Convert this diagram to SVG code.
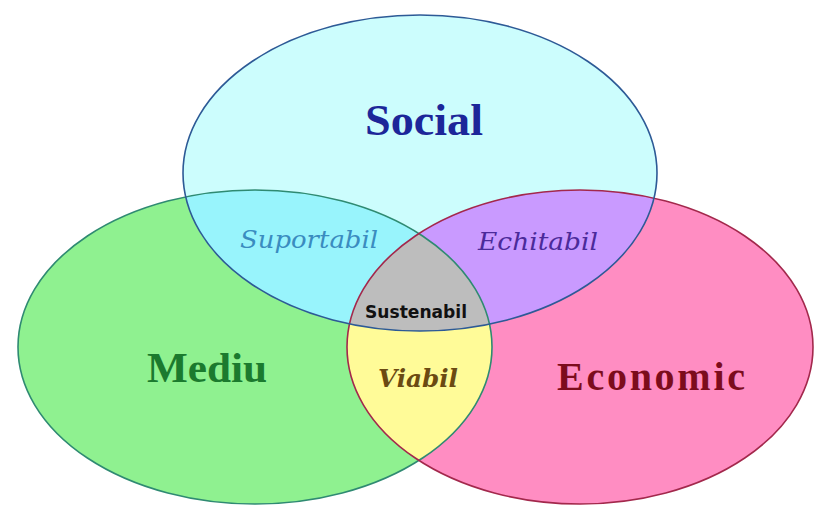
<svg xmlns="http://www.w3.org/2000/svg" width="814" height="507" viewBox="0 0 814 507">
<style>
.outline{fill:none;stroke-width:1.6}
.big{font-family:"Liberation Serif","Times New Roman",serif;font-weight:bold}
.ital{font-family:"DejaVu Serif","Liberation Serif",serif;font-style:italic}
</style>
<defs>
<clipPath id="cs"><ellipse cx="420" cy="173" rx="237" ry="158"/></clipPath>
<clipPath id="cm"><ellipse cx="255" cy="347" rx="237" ry="157"/></clipPath>
</defs>
<rect width="814" height="507" fill="#ffffff"/>
<g id="social">
<ellipse cx="420" cy="173" rx="237" ry="158" fill="#ccfdfd"/>
</g>
<g id="mediu">
<ellipse cx="255" cy="347" rx="237" ry="157" fill="#8ff190"/>
</g>
<g id="economic">
<ellipse cx="580" cy="347" rx="233" ry="157" fill="#ff8dc2"/>
</g>
<g id="suportabil">
<ellipse cx="255" cy="347" rx="237" ry="157" fill="#98f4fc" clip-path="url(#cs)"/>
</g>
<g id="echitabil">
<ellipse cx="580" cy="347" rx="233" ry="157" fill="#c99aff" clip-path="url(#cs)"/>
</g>
<g id="viabil">
<ellipse cx="580" cy="347" rx="233" ry="157" fill="#fffb98" clip-path="url(#cm)"/>
</g>
<g id="sustenabil">
<g clip-path="url(#cs)"><ellipse cx="580" cy="347" rx="233" ry="157" fill="#bdbdbd" clip-path="url(#cm)"/></g>
</g>
<g id="outlines">
<ellipse class="outline" cx="255" cy="347" rx="237" ry="157" stroke="#2f8a72"/>
<ellipse class="outline" cx="580" cy="347" rx="233" ry="157" stroke="#a3284c"/>
<ellipse class="outline" cx="420" cy="173" rx="237" ry="158" stroke="#2d5a96"/>
</g>
<g id="labels">
<text class="big" x="365" y="135" font-size="44" fill="#1c2699" textLength="118" lengthAdjust="spacingAndGlyphs">Social</text>
<text class="big" x="147" y="382" font-size="42" fill="#1b7a2e" textLength="120" lengthAdjust="spacingAndGlyphs">Mediu</text>
<text class="big" x="557" y="390" font-size="40" fill="#7c0c1c" textLength="188" lengthAdjust="spacing">Economic</text>
<text class="ital" x="240" y="248" font-size="25" fill="#3a8cc0" textLength="138" lengthAdjust="spacingAndGlyphs">Suportabil</text>
<text class="ital" x="478" y="250" font-size="25" fill="#4b2a9a" textLength="120" lengthAdjust="spacingAndGlyphs">Echitabil</text>
<text class="ital" x="378" y="387" font-size="25" font-weight="bold" fill="#6b4a12" textLength="80" lengthAdjust="spacingAndGlyphs">Viabil</text>
<text x="365" y="318" font-family="DejaVu Sans Condensed, DejaVu Sans, sans-serif" font-weight="bold" font-size="18" fill="#111111" textLength="102" lengthAdjust="spacingAndGlyphs">Sustenabil</text>
</g>
</svg>
